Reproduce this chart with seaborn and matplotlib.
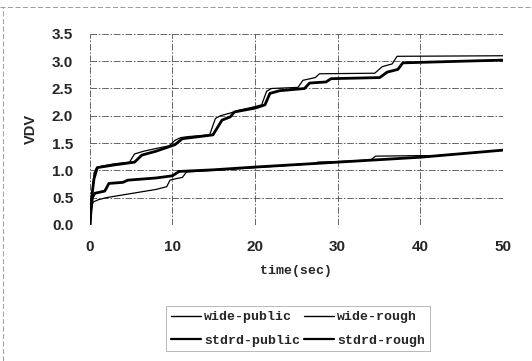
"""VDV accumulation over time for wide/standard vehicles on public and rough roads."""
from matplotlib import pyplot as plt
from matplotlib.lines import Line2D
import pandas as pd
import seaborn as sns


# wide vehicle, public road (thin, lower)
t_wide_public = [0, 0.15, 0.4, 1, 2, 4, 6, 8, 9.3, 9.7, 10.5, 11.2, 11.7, 15, 20, 25, 27, 27.6, 30, 34, 34.6, 40, 42, 50]
v_wide_public = [0, 0.3, 0.42, 0.46, 0.5, 0.55, 0.6, 0.65, 0.7, 0.82, 0.85, 0.87, 0.97, 1.0, 1.05, 1.1, 1.12, 1.15, 1.16, 1.19, 1.26, 1.27, 1.27, 1.37]

# wide vehicle, rough road (thin, upper)
t_wide_rough = [0, 0.1, 0.3, 0.5, 0.8, 1.5, 3, 4.8, 5.4, 6.5, 8, 9.6, 10.3, 11, 12, 14.5, 15.2, 15.8, 17, 18, 19.5, 20.8, 21.4, 22, 25.2, 25.8, 27.3, 27.8, 34.5, 35.4, 36.6, 37.2, 50]
v_wide_rough = [0, 0.35, 0.6, 0.95, 1.05, 1.08, 1.12, 1.15, 1.3, 1.35, 1.4, 1.45, 1.55, 1.6, 1.62, 1.65, 1.95, 2.0, 2.05, 2.1, 2.15, 2.2, 2.45, 2.5, 2.52, 2.65, 2.7, 2.77, 2.78, 2.9, 2.95, 3.09, 3.1]

# standard vehicle, public road (thick, lower)
t_stdrd_public = [0, 0.1, 0.3, 0.6, 1.8, 2.3, 4, 4.6, 8, 10, 10.8, 15, 20, 30, 40, 50]
v_stdrd_public = [0, 0.25, 0.5, 0.58, 0.62, 0.76, 0.78, 0.82, 0.86, 0.9, 0.98, 1.01, 1.06, 1.15, 1.24, 1.37]

# standard vehicle, rough road (thick, upper)
t_stdrd_rough = [0, 0.1, 0.25, 0.5, 0.9, 3, 5.4, 6.3, 8, 10.3, 11.2, 14.9, 16.0, 17.0, 17.5, 20, 21.2, 21.8, 23, 26.0, 26.6, 28.6, 29.2, 35.1, 36.0, 37.3, 37.9, 45, 50]
v_stdrd_rough = [0, 0.2, 0.55, 0.85, 1.05, 1.1, 1.15, 1.28, 1.35, 1.47, 1.58, 1.65, 1.92, 1.98, 2.07, 2.14, 2.2, 2.41, 2.46, 2.5, 2.6, 2.62, 2.68, 2.7, 2.8, 2.85, 2.97, 3.0, 3.02]

series = [
    ("wide-public", t_wide_public, v_wide_public, 0.9),
    ("wide-rough", t_wide_rough, v_wide_rough, 0.9),
    ("stdrd-public", t_stdrd_public, v_stdrd_public, 2.0),
    ("stdrd-rough", t_stdrd_rough, v_stdrd_rough, 2.0),
]

sns.set_style("white")
plt.rcParams["font.family"] = ["Liberation Sans", "DejaVu Sans"]

fig = plt.figure(figsize=(5.32, 3.61), dpi=100)
ax = fig.add_axes([0.169, 0.377, 0.776, 0.529])

for name, t, v, lw in series:
    df = pd.DataFrame({"time": t, "VDV": v})
    sns.lineplot(data=df, x="time", y="VDV", ax=ax, color="black", linewidth=lw,
                 estimator=None, sort=False, label=name, legend=False)

ax.set_xlim(0, 50)
ax.set_ylim(0, 3.5)
ax.set_xticks([0, 10, 20, 30, 40, 50])
ax.set_yticks([0, 0.5, 1.0, 1.5, 2.0, 2.5, 3.0, 3.5])
ax.set_yticklabels([f"{y:.1f}" for y in ax.get_yticks()], fontsize=11, fontweight="bold")
ax.set_xticklabels(["0", "10", "20", "30", "40", "50"], fontsize=11, fontweight="bold")
ax.tick_params(axis="x", length=0, pad=11)
ax.tick_params(axis="y", length=0, pad=12)
ax.grid(True, color="0.3", linewidth=0.6, linestyle=(0, (8, 2, 2, 2)))
sns.despine(ax=ax, left=True, bottom=True)

ax.set_xlabel("time(sec)", family="Liberation Mono", fontweight="bold", fontsize=9.5, labelpad=8)
ax.set_ylabel("VDV", fontweight="bold", fontsize=10.5, labelpad=10)

# legend filled row-wise: wide-public, wide-rough / stdrd-public, stdrd-rough
order = [0, 2, 1, 3]
handles = [Line2D([], [], color="black", linewidth=1.0 if series[i][3] < 1 else 1.6) for i in order]
leg = fig.legend(handles, [series[i][0] for i in order], ncol=2, loc="center",
                 bbox_to_anchor=(0.56, 0.089), frameon=True, fancybox=False,
                 handlelength=2.3, handletextpad=0.2, columnspacing=0.3,
                 labelspacing=0.85, borderpad=0.35,
                 prop={"family": "Liberation Mono", "weight": "bold", "size": 9.5})
leg.get_frame().set_edgecolor("0.65")
leg.get_frame().set_linewidth(0.7)

# faint scanned border of the chart area
fig.add_artist(Line2D([0, 1], [0.98, 0.98], color="0.55", linewidth=0.6, linestyle=(0, (6, 3))))
fig.add_artist(Line2D([0.006, 0.006], [0, 0.98], color="0.55", linewidth=0.6, linestyle=(0, (6, 3))))

fig.savefig("out.png", dpi=100)
